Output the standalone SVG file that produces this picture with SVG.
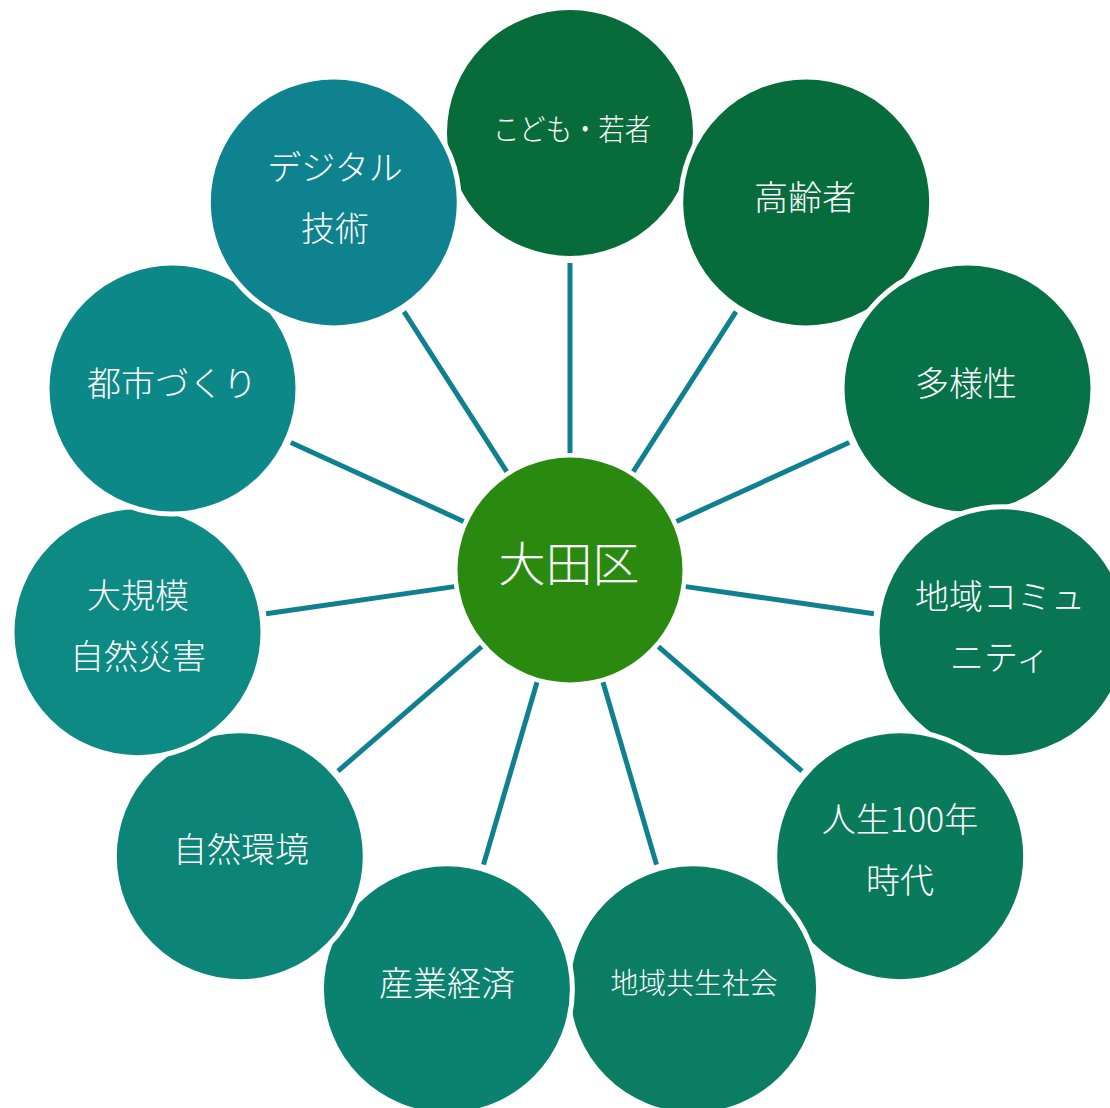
<svg xmlns="http://www.w3.org/2000/svg" width="1110" height="1108" viewBox="0 0 1110 1108">
<style>
.n{stroke:#fff;stroke-width:5}
.t{fill:#fff;font-family:"Noto Sans CJK JP","Noto Sans",sans-serif;font-size:34px;font-weight:300;text-anchor:middle;dominant-baseline:central}
.c{stroke:#0F8090;stroke-width:5;fill:none}
</style>
<rect width="1110" height="1108" fill="#fff"/>
<g id="connectors">
<line class="c" x1="570" y1="453" x2="570" y2="263"/>
<line class="c" x1="633.3" y1="471.6" x2="736" y2="311.7"/>
<line class="c" x1="676.4" y1="521.4" x2="849.2" y2="442.5"/>
<line class="c" x1="685.8" y1="586.6" x2="873.9" y2="613.7"/>
<line class="c" x1="658.4" y1="646.6" x2="802" y2="771.1"/>
<line class="c" x1="603" y1="682.3" x2="656.5" y2="864.6"/>
<line class="c" x1="537" y1="682.3" x2="483.5" y2="864.6"/>
<line class="c" x1="481.6" y1="646.6" x2="338" y2="771.1"/>
<line class="c" x1="454.2" y1="586.6" x2="266.1" y2="613.7"/>
<line class="c" x1="463.6" y1="521.4" x2="290.8" y2="442.5"/>
<line class="c" x1="506.7" y1="471.6" x2="404" y2="311.7"/>
</g>
<g id="center">
<circle cx="570" cy="570" r="112.5" fill="#2A8A0F"/>
<text class="t" x="569" y="560" style="font-size:47px">大田区</text>
</g>
<g id="n0">
<circle class="n" cx="570" cy="133" r="125.5" fill="#076C3A"/>
<text class="t" x="572" y="127" textLength="158" lengthAdjust="spacingAndGlyphs" style="font-size:30px">こども・若者</text>
</g>
<g id="n1">
<circle class="n" cx="806.2" cy="202.4" r="125.5" fill="#076C3C"/>
<text class="t" x="805" y="195">高齢者</text>
</g>
<g id="n2">
<circle class="n" cx="967.5" cy="388.5" r="125.5" fill="#077148"/>
<text class="t" x="966" y="381">多様性</text>
</g>
<g id="n3">
<circle class="n" cx="1002.5" cy="632.2" r="125.5" fill="#087652"/>
<text class="t" x="1000" y="594">地域コミュ</text>
<text class="t" x="1000" y="655">ニティ</text>
</g>
<g id="n4">
<circle class="n" cx="900.2" cy="856.2" r="125.5" fill="#097A5A"/>
<text class="t" x="900" y="817">人生100年</text>
<text class="t" x="900" y="878">時代</text>
</g>
<g id="n5">
<circle class="n" cx="693.1" cy="989.3" r="125.5" fill="#0A7D63"/>
<text class="t" x="694" y="981" textLength="167" lengthAdjust="spacingAndGlyphs" style="font-size:29px">地域共生社会</text>
</g>
<g id="n6">
<circle class="n" cx="446.9" cy="989.3" r="125.5" fill="#0B826F"/>
<text class="t" x="447" y="981">産業経済</text>
</g>
<g id="n7">
<circle class="n" cx="239.8" cy="856.2" r="125.5" fill="#0C8578"/>
<text class="t" x="241" y="847">自然環境</text>
</g>
<g id="n8">
<circle class="n" cx="137.5" cy="632.2" r="125.5" fill="#0D8A84"/>
<text class="t" x="138" y="593">大規模</text>
<text class="t" x="138" y="654">自然災害</text>
</g>
<g id="n9">
<circle class="n" cx="172.5" cy="388.5" r="125.5" fill="#0D8889"/>
<text class="t" x="172" y="381">都市づくり</text>
</g>
<g id="n10">
<circle class="n" cx="333.8" cy="202.4" r="125.5" fill="#0F8290"/>
<text class="t" x="335" y="165">デジタル</text>
<text class="t" x="335" y="226">技術</text>
</g>
</svg>
